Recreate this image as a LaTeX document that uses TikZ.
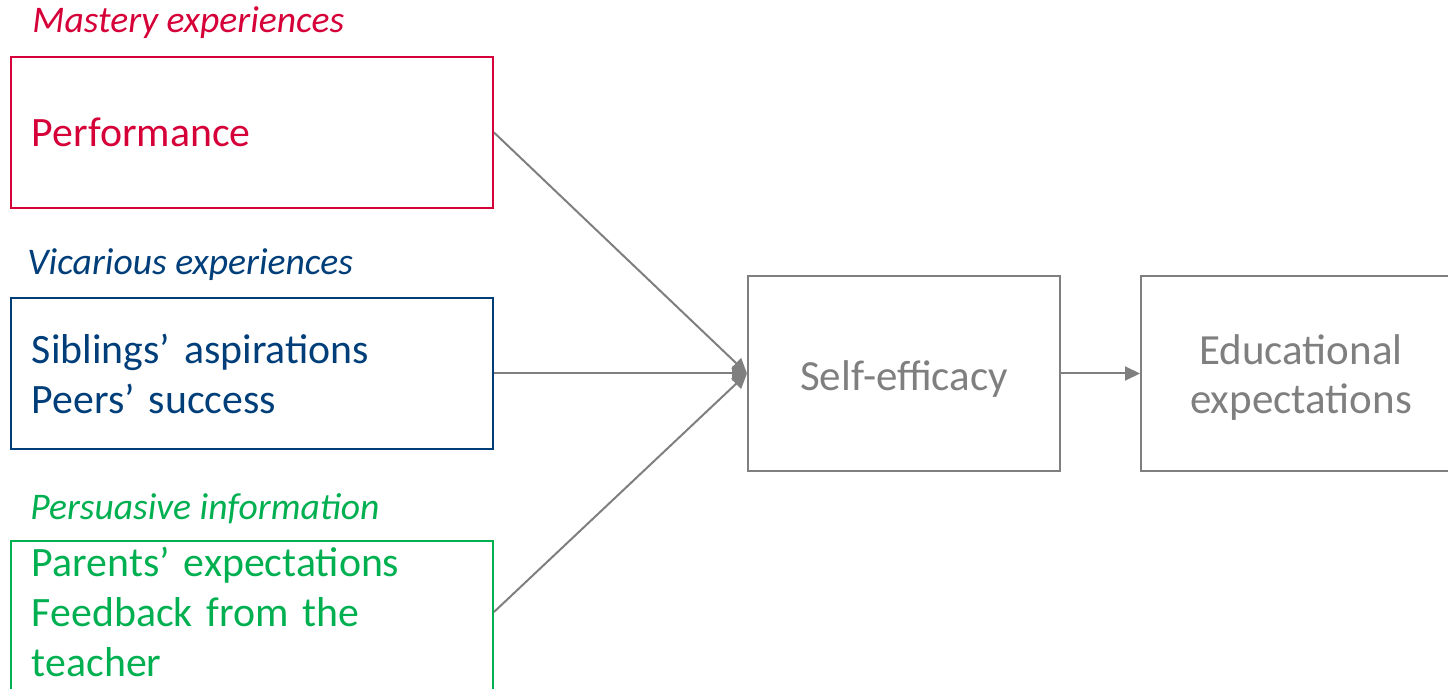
\documentclass[tikz,border=0pt]{standalone}
\usepackage{fontspec}
\setmainfont{Carlito}
\usetikzlibrary{arrows.meta,calc,positioning}
\definecolor{mastred}{RGB}{214,0,57}
\definecolor{vicblue}{RGB}{0,62,122}
\definecolor{persgreen}{RGB}{0,176,80}
\definecolor{effgrey}{RGB}{127,127,127}
\newcommand{\lowered}[1]{\raisebox{-3pt}[\height][\depth]{#1}}
\begin{document}
\begin{tikzpicture}[x=0.5pt,y=-0.5pt,>={Triangle[length=7.5pt,width=7pt]},
  srcbox/.style={draw,line width=1pt,minimum width=241pt,minimum height=75.5pt,anchor=north west,
    align=left,text width=220pt,inner xsep=10.5pt,font=\fontsize{20.9}{25}\selectfont},
  srclabel/.style={anchor=base west,inner sep=0pt,font=\fontsize{18.8}{20}\selectfont\itshape},
  outbox/.style={draw=effgrey,text=effgrey,line width=1pt,minimum height=97.5pt,anchor=north west,
    align=center,font=\fontsize{21.5}{24.5}\selectfont},
  link/.style={->,draw=effgrey,line width=1pt}]
  \useasboundingbox (0,0) rectangle (1448,689);
  \clip (0,0) rectangle (1448,689);
  % sources of self-efficacy
  \node[srclabel,text=mastred] (mastlab) at (32,33) {Mastery experiences};
  \node[srcbox,draw=mastred,text=mastred] (perf) at (10,56) {Performance};
  \node[srclabel,text=vicblue] (viclab) at (27,275) {Vicarious experiences};
  \node[srcbox,draw=vicblue,text=vicblue] (vic) at (10,297) {Siblings’ aspirations\\Peers’ success};
  \node[srclabel,text=persgreen] (perslab) at (30,520) {Persuasive information};
  \node[srcbox,draw=persgreen,text=persgreen,minimum height=0pt,inner ysep=3pt] (pers) at (10,540)
    {Parents’ expectations\\Feedback from the\\teacher\rule[-20pt]{0pt}{0pt}};
  % outcomes
  \node[outbox,minimum width=156pt] (eff) at (747,275) {\lowered{Self-efficacy}};
  \node[outbox,minimum width=160pt] (edu) at (1140,275)
    {\lowered{\begin{tabular}{@{}c@{}}Educational\\expectations\end{tabular}}};
  \coordinate (persout) at ($(pers.north east)+(0,-36pt)$);
  \draw[link] (perf.east) -- (eff.west);
  \draw[link] (vic.east) -- (eff.west);
  \draw[link] (persout) -- (eff.west);
  \draw[link] (eff.east) -- (edu.west);
\end{tikzpicture}
\end{document}
